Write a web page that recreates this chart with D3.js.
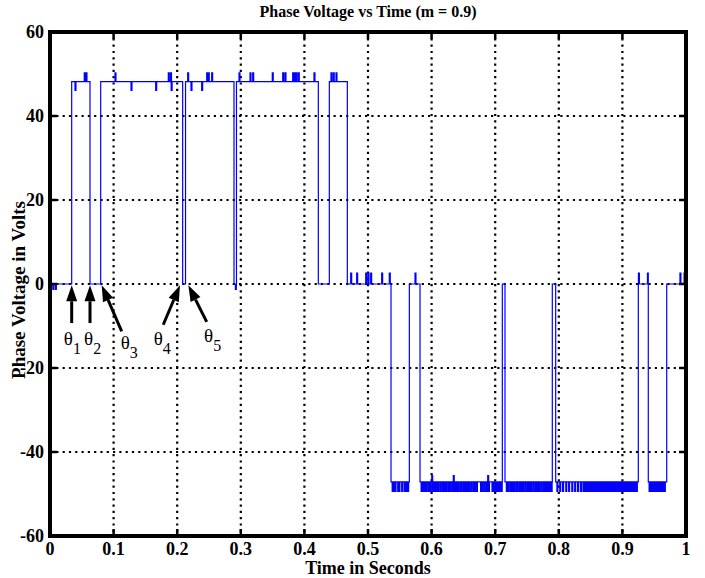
<!DOCTYPE html>
<html>
<head>
<meta charset="utf-8">
<script src="https://cdn.jsdelivr.net/npm/d3@7"></script>
<style>
    body { margin: 0; background: #fff; }
    text { font-family: "Liberation Serif", "Times New Roman", serif; }
</style>
</head>
<body>
<svg id="chart" width="705" height="578"></svg>
<script>
const xTicks = [0, 0.1, 0.2, 0.3, 0.4, 0.5, 0.6, 0.7, 0.8, 0.9, 1];
const yTicks = [-60, -40, -20, 0, 20, 40, 60];

// level changes of the phase voltage (time in s, level in V)
const stepTimes = [0, 0.0341, 0.0629, 0.0797, 0.2086, 0.2131, 0.2893, 0.2932, 0.4219, 0.4392,
    0.4675, 0.5362, 0.565, 0.5818, 0.7112, 0.7154, 0.7898, 0.7951, 0.925, 0.9407, 0.9697];
const stepLevels = [0, 48.2, 0, 48.2, 0, 48.2, 0, 48.2, 0, 48.2,
    0, -47.1, 0, -47.1, 0, -47.1, 0, -47.1, 0, -47.1, 0];

// switching spikes on top of the levels
const highUpTimes = [0.0539, 0.0566, 0.1022, 0.186, 0.1895, 0.2165, 0.2464, 0.2489, 0.2542, 0.2972,
    0.3145, 0.3187, 0.3495, 0.3659, 0.3695, 0.3816, 0.3841, 0.3868, 0.3904, 0.4151, 0.4418, 0.4454, 0.4497];
const highUpValue = 50.3;
const highDownTimes = [0.0393, 0.1274, 0.1662, 0.1905, 0.2217, 0.2385];
const highDownValue = 46.1;
const zeroUpTimes = [0.4728, 0.4822, 0.4964, 0.5, 0.5042, 0.5215, 0.5335, 0.5739, 0.9252, 0.9394, 0.9905, 0.997];
const zeroUpValue = 2.6;
const zeroDownTimes = [0.0008, 0.0045, 0.0085, 0.2915];
const zeroDownValue = -1.3;
const lowUpTimes = [0.6002, 0.6341, 0.6882];
const lowUpValue = -45.6;
const lowDownTimes = [
    0.538, 0.5405, 0.5425, 0.5467, 0.5487, 0.553, 0.557, 0.5602, 0.5624,
    0.5835, 0.586, 0.589, 0.5915, 0.595, 0.598, 0.6015, 0.604, 0.607, 0.61, 0.6135, 0.617, 0.62,
    0.623, 0.6265, 0.6295, 0.633, 0.636, 0.639, 0.642, 0.6455, 0.649, 0.652, 0.655, 0.658, 0.6615,
    0.665, 0.668, 0.6705, 0.677, 0.6795, 0.683, 0.6865, 0.6895, 0.695, 0.698, 0.701, 0.704, 0.707, 0.7095,
    0.7175, 0.7205, 0.724, 0.727, 0.73, 0.7335, 0.737, 0.74, 0.743, 0.7465, 0.75, 0.753, 0.756,
    0.7595, 0.763, 0.766, 0.769, 0.7725, 0.776, 0.779, 0.782, 0.785, 0.788,
    0.797, 0.8015, 0.806, 0.811, 0.8155, 0.8205, 0.825, 0.8295, 0.834, 0.838, 0.841, 0.844, 0.847,
    0.85, 0.853, 0.856, 0.859, 0.862, 0.865, 0.868, 0.871, 0.874, 0.877, 0.88, 0.883, 0.886, 0.889,
    0.892, 0.895, 0.898, 0.901, 0.904, 0.907, 0.91, 0.913, 0.916, 0.919, 0.922,
    0.942, 0.945, 0.948, 0.951, 0.954, 0.957, 0.96, 0.963, 0.966];
const lowDownValue = -49.4;

// switching angle annotations
const thetaNames = ["1", "2", "3", "4", "5"];
const thetaTip = [[0.0341, -0.3], [0.0629, -0.3], [0.0813, -0.3], [0.2044, -0.3], [0.2175, -0.3]];
const thetaTail = [[0.0341, -9.3], [0.0629, -9.3], [0.1127, -11.3], [0.178, -9.7], [0.2464, -9]];
const thetaLabel = [[0.0218, -14.6], [0.0535, -14.6], [0.1112, -15.4], [0.163, -14.6], [0.2422, -13.8]];

function render() {
    const width = 705;
    const height = 578;
    const margin = { top: 32, right: 19, bottom: 42, left: 50 };
    const spikeW = 0.0015;

    var svg = d3.select("#chart");

    var x = d3.scaleLinear()
        .domain([0, 1])
        .range([margin.left, width - margin.right]);

    var y = d3.scaleLinear()
        .domain([-60, 60])
        .range([height - margin.bottom, margin.top]);

    // grid
    var grid = svg.append("g")
        .attr("stroke", "#000")
        .attr("stroke-width", 2.2)
        .attr("stroke-dasharray", "2.2,4.1");

    grid.selectAll(".gx")
        .data(xTicks.slice(1, -1))
        .enter().append("line")
        .attr("x1", (d) => x(d))
        .attr("x2", (d) => x(d))
        .attr("y1", y(60))
        .attr("y2", y(-60));

    grid.selectAll(".gy")
        .data(yTicks.slice(1, -1))
        .enter().append("line")
        .attr("x1", x(0))
        .attr("x2", x(1))
        .attr("y1", (d) => y(d))
        .attr("y2", (d) => y(d));

    // build the step waveform
    var spikes = [];
    highUpTimes.forEach((t) => spikes.push([t, highUpValue]));
    highDownTimes.forEach((t) => spikes.push([t, highDownValue]));
    zeroUpTimes.forEach((t) => spikes.push([t, zeroUpValue]));
    zeroDownTimes.forEach((t) => spikes.push([t, zeroDownValue]));
    lowUpTimes.forEach((t) => spikes.push([t, lowUpValue]));
    lowDownTimes.forEach((t) => spikes.push([t, lowDownValue]));
    spikes.sort((a, b) => a[0] - b[0]);

    var points = [];
    stepTimes.forEach(function (t0, i) {
        var t1 = i + 1 < stepTimes.length ? stepTimes[i + 1] : 1;
        var level = stepLevels[i];
        points.push([t0, level]);
        spikes.filter((s) => s[0] >= t0 && s[0] < t1).forEach(function (s) {
            points.push([s[0], s[1]]);
            points.push([Math.min(s[0] + spikeW, t1), level]);
        });
    });
    points.push([1, stepLevels[stepLevels.length - 1]]);

    var line = d3.line()
        .x((d) => x(d[0]))
        .y((d) => y(d[1]))
        .curve(d3.curveStepAfter);

    svg.append("path")
        .datum(points)
        .attr("fill", "none")
        .attr("stroke", "#0000ff")
        .attr("stroke-width", 1.2)
        .attr("d", line);

    // axes box with inward ticks on all sides
    var tickLen = 7;
    var ticks = svg.append("g")
        .attr("stroke", "#000")
        .attr("stroke-width", 2.5);

    xTicks.forEach(function (d) {
        ticks.append("line")
            .attr("x1", x(d)).attr("x2", x(d))
            .attr("y1", y(-60)).attr("y2", y(-60) - tickLen);
        ticks.append("line")
            .attr("x1", x(d)).attr("x2", x(d))
            .attr("y1", y(60)).attr("y2", y(60) + tickLen);
    });
    yTicks.forEach(function (d) {
        ticks.append("line")
            .attr("x1", x(0)).attr("x2", x(0) + tickLen)
            .attr("y1", y(d)).attr("y2", y(d));
        ticks.append("line")
            .attr("x1", x(1)).attr("x2", x(1) - tickLen)
            .attr("y1", y(d)).attr("y2", y(d));
    });

    svg.append("rect")
        .attr("x", x(0))
        .attr("y", y(60))
        .attr("width", x(1) - x(0))
        .attr("height", y(-60) - y(60))
        .attr("fill", "none")
        .attr("stroke", "#000")
        .attr("stroke-width", 4);

    // tick labels
    svg.selectAll(".xlabel")
        .data(xTicks)
        .enter().append("text")
        .attr("x", (d) => x(d))
        .attr("y", y(-60) + 19)
        .attr("text-anchor", "middle")
        .attr("font-size", 18)
        .attr("font-weight", "bold")
        .text((d) => d3.format("")(d));

    svg.selectAll(".ylabel")
        .data(yTicks)
        .enter().append("text")
        .attr("x", x(0) - 6)
        .attr("y", (d) => y(d))
        .attr("dy", "0.33em")
        .attr("text-anchor", "end")
        .attr("font-size", 18)
        .attr("font-weight", "bold")
        .text((d) => d);

    // titles
    svg.append("text")
        .attr("x", (x(0) + x(1)) / 2)
        .attr("y", 17)
        .attr("text-anchor", "middle")
        .attr("font-size", 16)
        .attr("font-weight", "bold")
        .text("Phase Voltage vs Time (m = 0.9)");

    svg.append("text")
        .attr("x", (x(0) + x(1)) / 2)
        .attr("y", 574)
        .attr("text-anchor", "middle")
        .attr("font-size", 18)
        .attr("font-weight", "bold")
        .text("Time in Seconds");

    svg.append("text")
        .attr("transform", "translate(25," + (y(0) + 6) + ") rotate(-90)")
        .attr("text-anchor", "middle")
        .attr("font-size", 19)
        .attr("font-weight", "bold")
        .text("Phase Voltage in Volts");

    // theta arrows
    var headLen = 16;
    var headW = 5.5;
    thetaNames.forEach(function (name, i) {
        var tx = x(thetaTip[i][0]), ty = y(thetaTip[i][1]);
        var sx = x(thetaTail[i][0]), sy = y(thetaTail[i][1]);
        var len = Math.hypot(tx - sx, ty - sy);
        var ux = (tx - sx) / len, uy = (ty - sy) / len;
        var bx = tx - ux * headLen, by = ty - uy * headLen;

        svg.append("line")
            .attr("x1", sx).attr("y1", sy)
            .attr("x2", bx).attr("y2", by)
            .attr("stroke", "#000")
            .attr("stroke-width", 3);

        svg.append("path")
            .attr("d", "M" + tx + "," + ty +
                "L" + (bx - uy * headW) + "," + (by + ux * headW) +
                "L" + (bx + uy * headW) + "," + (by - ux * headW) + "Z")
            .attr("fill", "#000");

        var label = svg.append("text")
            .attr("x", x(thetaLabel[i][0]))
            .attr("y", y(thetaLabel[i][1]))
            .attr("font-size", 19);
        label.append("tspan").text("\u03b8");
        label.append("tspan")
            .attr("dy", 9)
            .attr("font-size", 16)
            .text(name);
    });
}

render();
</script>
</body>
</html>
